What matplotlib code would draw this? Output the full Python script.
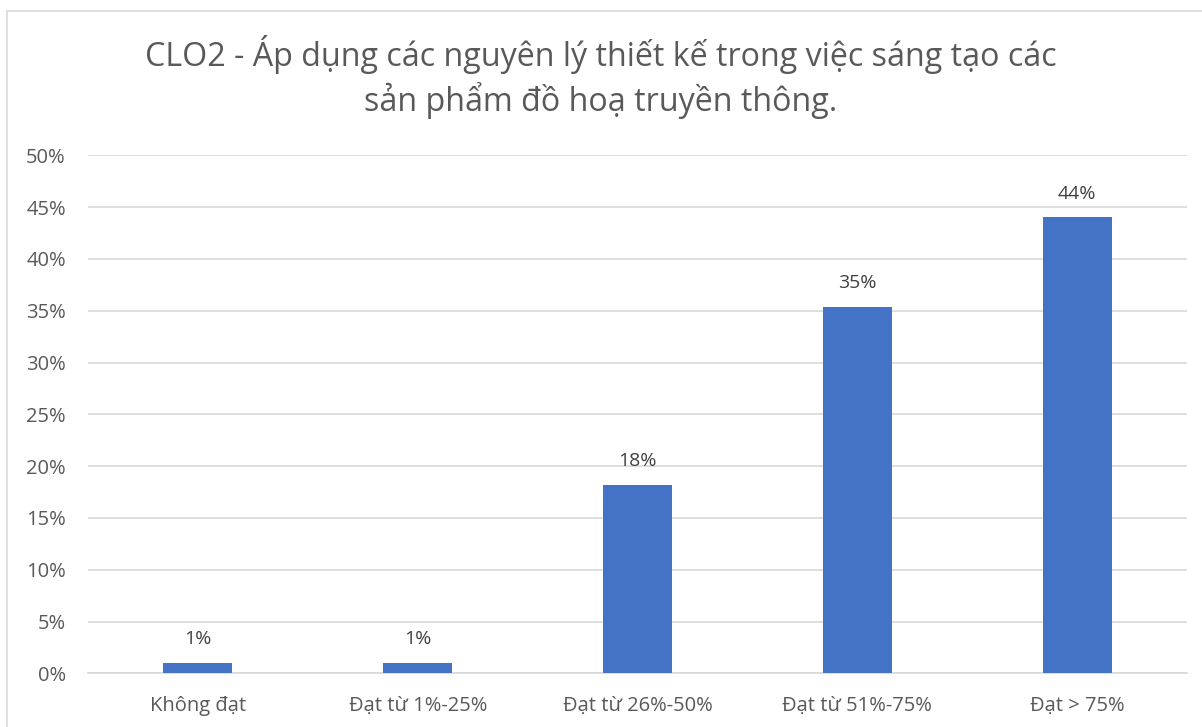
import matplotlib
matplotlib.use("Agg")
import matplotlib.pyplot as plt
from matplotlib.patches import Rectangle
from matplotlib.ticker import PercentFormatter

categories = ["Không đạt", "Đạt từ 1%-25%", "Đạt từ 26%-50%", "Đạt từ 51%-75%", "Đạt > 75%"]
values = [1.0, 1.0, 18.2, 35.4, 44.0]
labels = ["1%", "1%", "18%", "35%", "44%"]

plt.rcParams['font.family'] = ['Open Sans', 'DejaVu Sans']
txt = "#595959"

fig = plt.figure(figsize=(12.02, 7.27), dpi=100)
fig.patches.append(Rectangle((7/1202, -0.1), 1.2, 1 - 11/727 + 0.1, transform=fig.transFigure,
                             fill=False, edgecolor="#D9D9D9", linewidth=1.2))
ax = fig.add_axes([88/1202, 1 - 673.3/727, (1187 - 88)/1202, (673.3 - 155.3)/727])
x = range(len(categories))
ax.bar(x, values, width=0.314, color="#4472C4", zorder=3)
for xi, v, l in zip(x, values, labels):
    ax.annotate(l, (xi, v), xytext=(0, 17), textcoords="offset points", ha="center", va="center",
                fontsize=14, color="#404040")
ax.set_xlim(-0.5, len(categories) - 0.5)
ax.set_ylim(0, 50)
ax.set_yticks(range(0, 51, 5))
ax.yaxis.set_major_formatter(PercentFormatter(decimals=0))
ax.set_xticks(list(x))
ax.set_xticklabels(categories)
ax.grid(axis="y", color="#D9D9D9", linewidth=1.2, zorder=0)
for s in ["top", "right", "left"]:
    ax.spines[s].set_visible(False)
ax.spines["bottom"].set_color("#D9D9D9")
ax.spines["bottom"].set_linewidth(1.2)
ax.tick_params(axis="both", length=0, labelsize=14.5, colors=txt)
ax.tick_params(axis="x", pad=16)
ax.tick_params(axis="y", pad=16)
fig.text(0.5, 1 - 77/727, "CLO2 - Áp dụng các nguyên lý thiết kế trong việc sáng tạo các\nsản phẩm đồ hoạ truyền thông.",
         ha="center", va="center", fontsize=23.2, color=txt, linespacing=1.3)
fig.savefig("out.png", dpi=100)
